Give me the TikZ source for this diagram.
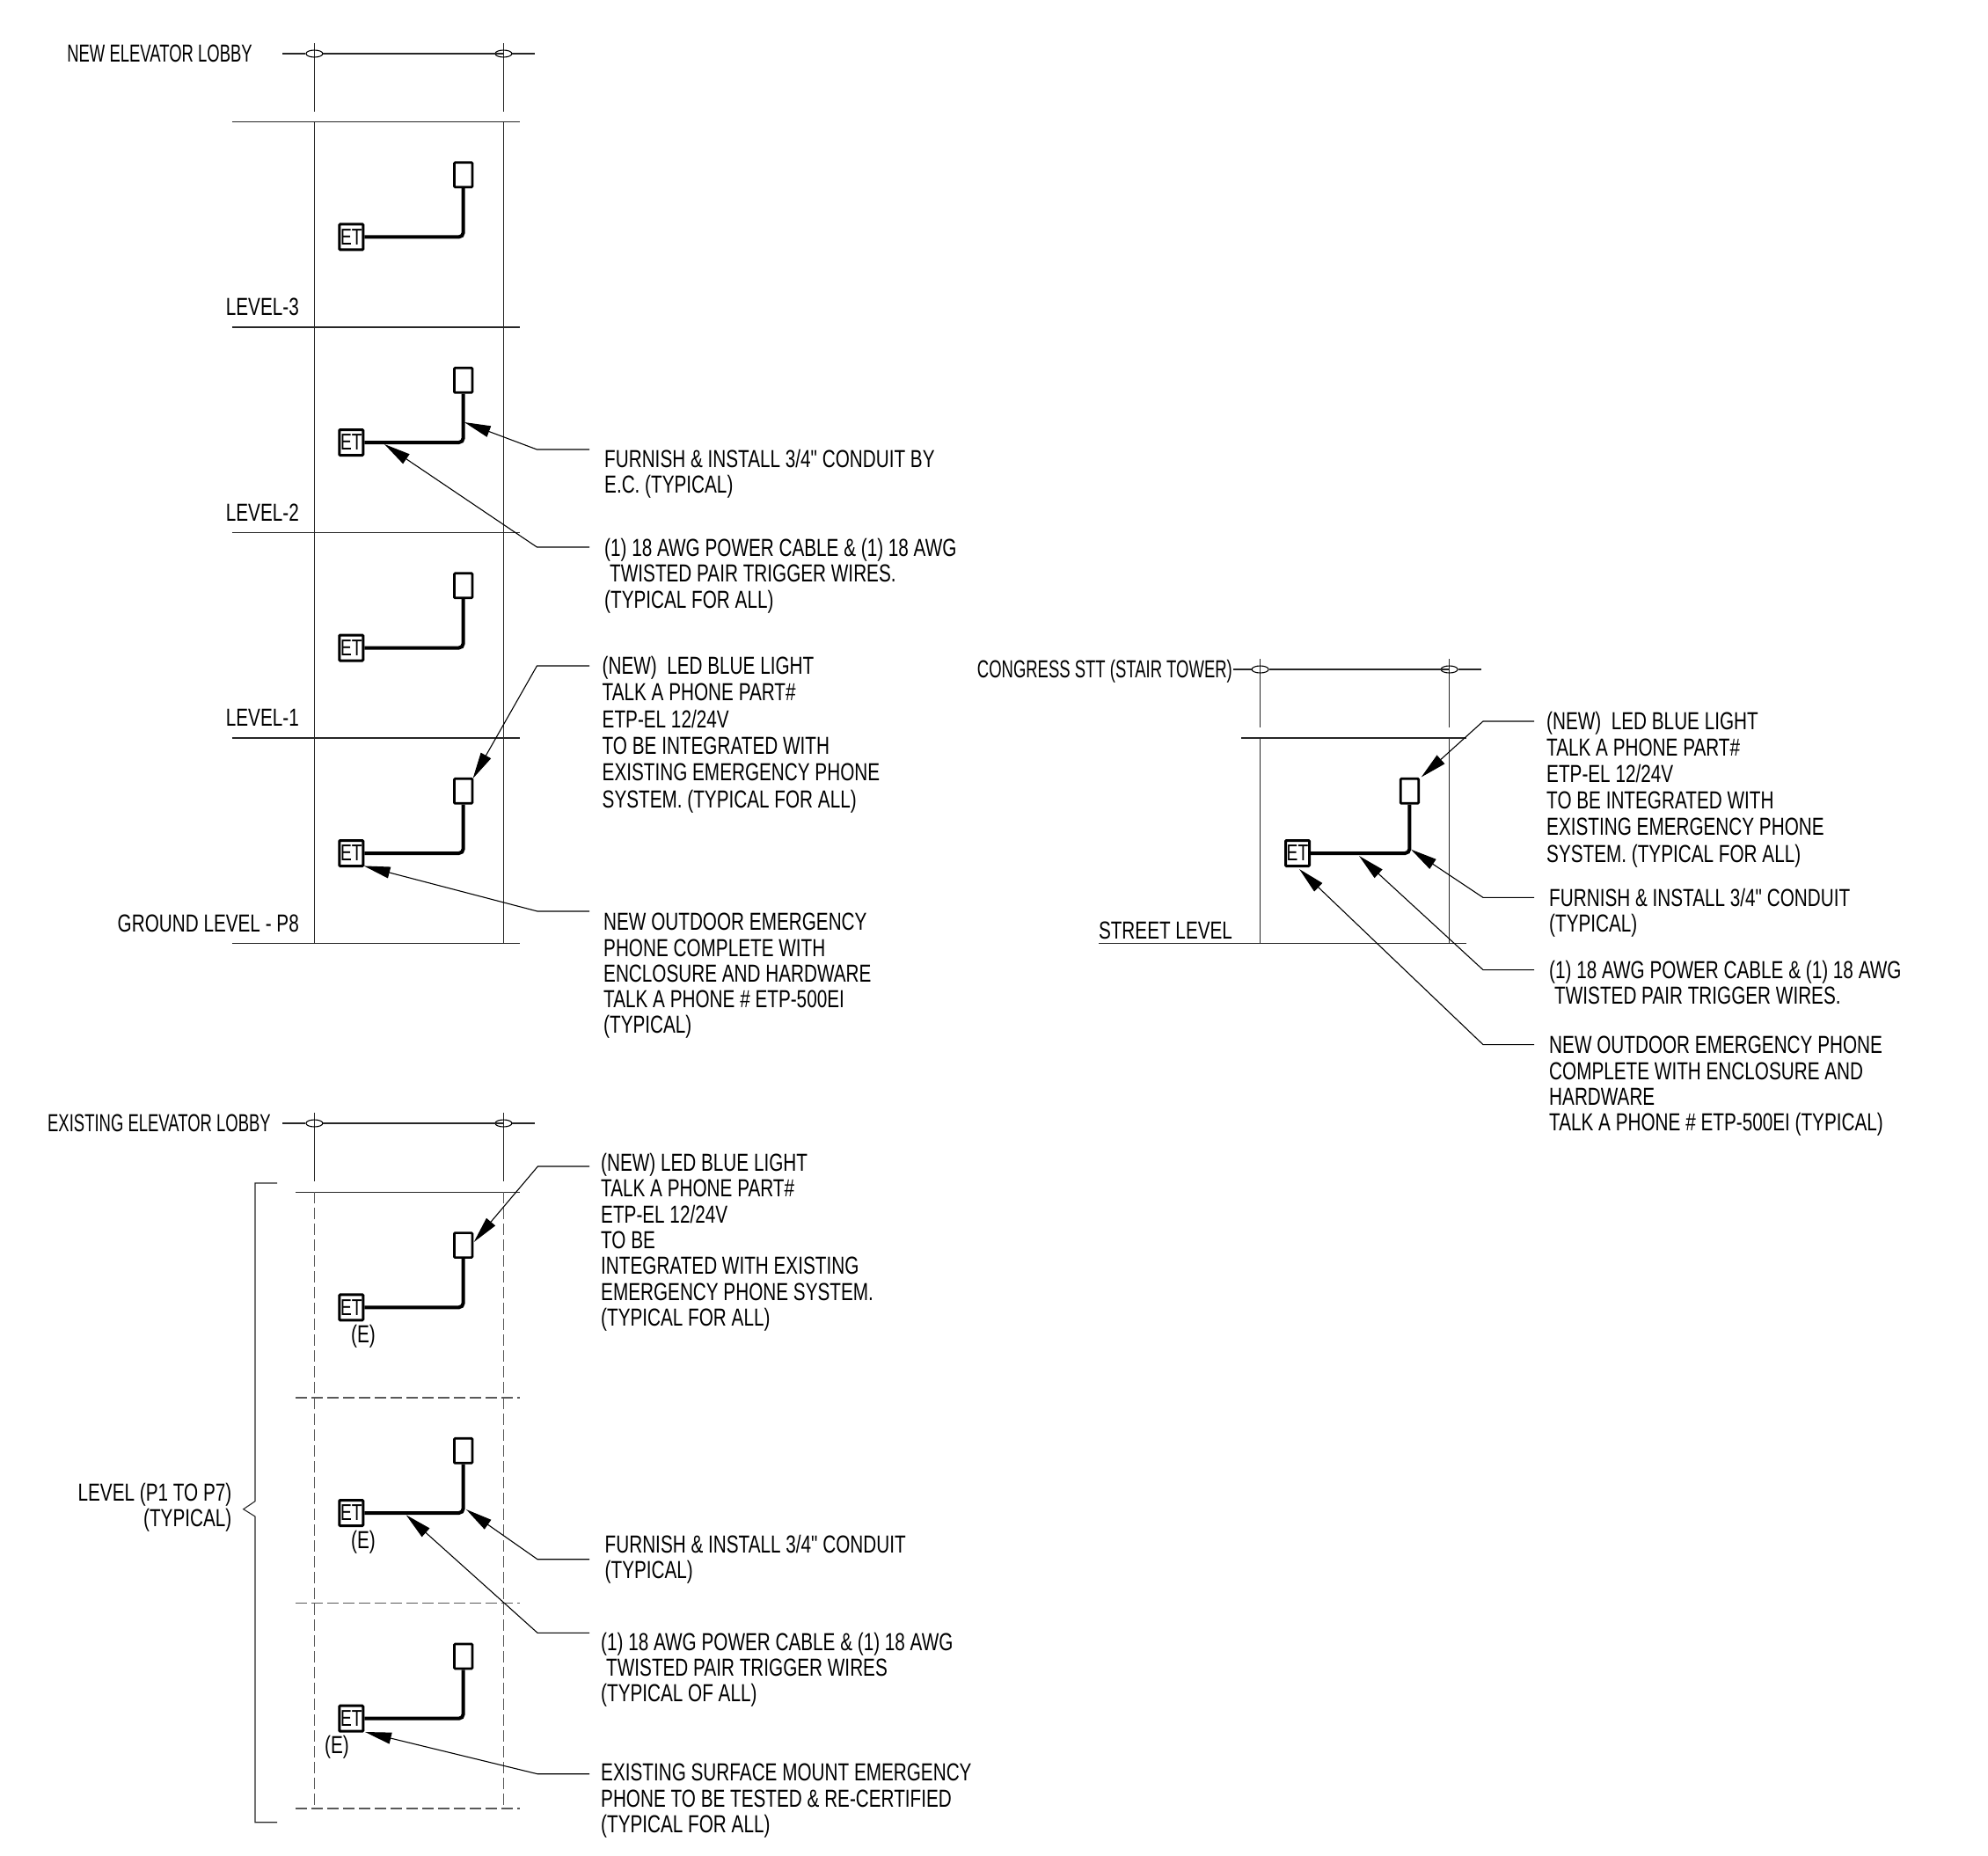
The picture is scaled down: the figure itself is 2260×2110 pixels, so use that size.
\documentclass[tikz,border=0pt]{standalone}
\usepackage{fontspec}
\usetikzlibrary{arrows.meta,shapes.geometric}
\setmainfont[FakeStretch=0.74,Ligatures=TeXOff]{Liberation Sans}
\newfontfamily\lobbyfont[FakeStretch=0.66]{Liberation Sans}
\tikzset{
    x=1pt, y=-1pt,
    thinline/.style = {line width=1.1pt, draw=black!85},
    dashline/.style = {line width=1.2pt, draw=black!65, dash pattern=on 13pt off 5pt},
    conduit/.style = {line width=4pt, rounded corners=5pt},
    leader/.style = {line width=1.1pt, -{Triangle[length=30pt,width=13pt]}},
    et-box/.style = {draw, line width=3pt, rounded corners=1pt, minimum width=27pt, minimum height=29pt, inner sep=0pt, font=\fontsize{26}{26}\selectfont},
    light-box/.style = {draw, line width=2.7pt, rounded corners=1pt, minimum width=20.5pt, minimum height=28pt, inner sep=0pt},
    note/.style = {anchor=north west, inner sep=0pt, align=left, font=\fontsize{28}{29.3}\selectfont, execute at begin node=\rule{0pt}{20pt}},
    tag/.style = {inner sep=0pt, font=\fontsize{28}{29.3}\selectfont},
    lobby/.style = {tag, anchor=east, font=\fontsize{28}{29.3}\lobbyfont},
    bubble/.style = {draw, line width=1.1pt, ellipse, minimum width=19pt, minimum height=8pt, inner sep=0pt},
}
\begin{document}
\begin{tikzpicture}
\useasboundingbox (0,0) rectangle (2260,2110);

% column grids
\foreach \name/\xa/\xb/\ya in {new/357.4/572.4/61, stair/1432.6/1647.6/761, old/357.4/572.4/1277} {
    \draw[thinline] (\xa,\ya-12) -- (\xa,\ya+66);
    \draw[thinline] (\xb,\ya-12) -- (\xb,\ya+66);
    \node[bubble] (\name-a) at (\xa,\ya) {};
    \node[bubble] (\name-b) at (\xb,\ya) {};
    \coordinate (\name-r) at (\xb+36,\ya);
    \draw[thinline] (\name-a) -- (\name-b.center);
    \draw[thinline] (\name-b) -- (\name-r);
}
\coordinate (new-l) at (321,61);
\coordinate (old-l) at (321,1277);
\coordinate (stair-l) at (1402,761);
\draw[thinline] (new-l) -- (new-a);
\draw[thinline] (old-l) -- (old-a);
\draw[thinline] (stair-l) -- (stair-a);

% floors
\foreach \ya in {138.4,372,605.5,839,1072.6}
    \draw[thinline] (263.5,\ya) -- (591,\ya);
\draw[thinline] (357.4,138.4) -- (357.4,1072.6);
\draw[thinline] (572.4,138.4) -- (572.4,1072.6);
\draw[thinline] (1411,839) -- (1667,839);
\draw[thinline] (1249,1072.6) -- (1667,1072.6);
\draw[thinline] (1432.6,839) -- (1432.6,1072.6);
\draw[thinline] (1647.6,839) -- (1647.6,1072.6);
\draw[thinline] (336,1355.3) -- (590.6,1355.3);
\foreach \ya in {1589,1822.7,2056}
    \draw[dashline] (336,\ya) -- (590.6,\ya);
\draw[dashline] (357.4,1355.3) -- (357.4,2056);
\draw[dashline] (572.4,1355.3) -- (572.4,2056);

% phone and light in each bay
\foreach \name/\xa/\ya in {a/384.3/138.4, b/384.3/372, c/384.3/605.5, d/384.3/839, e/1460/839, f/384.3/1355.3, g/384.3/1589, h/384.3/1822.7} {
    \node[et-box] (et-\name) at (\xa+15,\ya+131) {ET};
    \node[light-box] (lamp-\name) at (\xa+142.4,\ya+60.3) {};
    \draw[conduit] (et-\name.east) -| (lamp-\name.south);
}
\node[tag] (tag-f) at (413,1519) {(E)};
\node[tag] (tag-g) at (413,1753) {(E)};
\node[tag] (tag-h) at (383,1986) {(E)};

% bracket
\coordinate (brace-a) at (315,1345);
\coordinate (brace-b) at (290,1345);
\coordinate (brace-c) at (290,1706.7);
\coordinate (brace-d) at (276.7,1715.7);
\coordinate (brace-e) at (290,1724);
\coordinate (brace-f) at (290,2071.7);
\coordinate (brace-g) at (315,2071.7);
\draw[thinline] (brace-a) -- (brace-b) -- (brace-c) -- (brace-d) -- (brace-e) -- (brace-f) -- (brace-g);

% side labels
\node[lobby] (lobby-new) at (287,61) {NEW ELEVATOR LOBBY};
\node[lobby] (lobby-old) at (308,1277) {EXISTING ELEVATOR LOBBY};
\node[lobby] (lobby-stair) at (1401,763) {CONGRESS STT (STAIR TOWER)};
\node[tag, anchor=east] (lvl-3) at (340,349) {LEVEL-3};
\node[tag, anchor=east] (lvl-2) at (340,583) {LEVEL-2};
\node[tag, anchor=east] (lvl-1) at (340,816) {LEVEL-1};
\node[tag, anchor=east] (lvl-g) at (340,1050) {GROUND LEVEL - P8};
\node[tag] (lvl-s) at (1325,1058) {STREET LEVEL};
\node[note, align=right, anchor=north east] (lvl-p) at (263.5,1686) {LEVEL (P1 TO P7)\\(TYPICAL)};

% notes
\node[note] (n-conduit) at (687,511) {FURNISH \& INSTALL 3/4" CONDUIT BY\\E.C. (TYPICAL)};
\node[note] (n-cable) at (687,612) {(1) 18 AWG POWER CABLE \& (1) 18 AWG\\\hspace{6pt}TWISTED PAIR TRIGGER WIRES.\\(TYPICAL FOR ALL)};
\node[note, font=\fontsize{28}{30.3}\selectfont] (n-light) at (684.5,746) {(NEW)\ \ LED BLUE LIGHT\\TALK A PHONE PART\#\\ETP-EL 12/24V\\TO BE INTEGRATED WITH\\EXISTING EMERGENCY PHONE\\SYSTEM. (TYPICAL FOR ALL)};
\node[note] (n-phone) at (686,1038) {NEW OUTDOOR EMERGENCY\\PHONE COMPLETE WITH\\ENCLOSURE AND HARDWARE\\TALK A PHONE \# ETP-500EI\\(TYPICAL)};
\node[note, font=\fontsize{28}{30.1}\selectfont] (s-light) at (1758,809) {(NEW)\ \ LED BLUE LIGHT\\TALK A PHONE PART\#\\ETP-EL 12/24V\\TO BE INTEGRATED WITH\\EXISTING EMERGENCY PHONE\\SYSTEM. (TYPICAL FOR ALL)};
\node[note] (s-conduit) at (1761,1010) {FURNISH \& INSTALL 3/4" CONDUIT\\(TYPICAL)};
\node[note] (s-cable) at (1761,1092) {(1) 18 AWG POWER CABLE \& (1) 18 AWG\\\hspace{6pt}TWISTED PAIR TRIGGER WIRES.};
\node[note] (s-phone) at (1761,1178) {NEW OUTDOOR EMERGENCY PHONE\\COMPLETE WITH ENCLOSURE AND\\HARDWARE\\TALK A PHONE \# ETP-500EI (TYPICAL)};
\node[note] (o-light) at (683,1311) {(NEW) LED BLUE LIGHT\\TALK A PHONE PART\#\\ETP-EL 12/24V\\TO BE\\INTEGRATED WITH EXISTING\\EMERGENCY PHONE SYSTEM.\\(TYPICAL FOR ALL)};
\node[note] (o-conduit) at (687.5,1744.5) {FURNISH \& INSTALL 3/4" CONDUIT\\(TYPICAL)};
\node[note] (o-cable) at (683,1855.5) {(1) 18 AWG POWER CABLE \& (1) 18 AWG\\\hspace{6pt}TWISTED PAIR TRIGGER WIRES\\(TYPICAL OF ALL)};
\node[note] (o-phone) at (683,2005) {EXISTING SURFACE MOUNT EMERGENCY\\PHONE TO BE TESTED \& RE-CERTIFIED\\(TYPICAL FOR ALL)};

% leaders
\foreach \name/\xe/\ye/\xt/\yt/\xs in {
    n-conduit/610.4/511/527.8/480/670,
    n-cable/610.4/622/437/505/670,
    n-light/610.4/757/537.6/885/670,
    n-phone/611/1036/413.6/984.4/670,
    s-light/1686/820/1615.7/883.5/1744,
    s-conduit/1686/1020.4/1604/965.7/1744,
    s-cable/1686/1102.6/1545/973/1744,
    s-phone/1686/1187.6/1477/988/1744,
    o-light/611.4/1326/538.7/1412/670,
    o-conduit/611/1772.7/530/1716/670,
    o-cable/611/1856.3/461.7/1722.3/670,
    o-phone/611/2016.7/415/1969/670} {
    \coordinate (\name-start) at (\xs,\ye);
    \coordinate (\name-elbow) at (\xe,\ye);
    \coordinate (\name-tip) at (\xt,\yt);
    \draw[leader] (\name-start) -- (\name-elbow) -- (\name-tip);
}
\end{tikzpicture}
\end{document}
